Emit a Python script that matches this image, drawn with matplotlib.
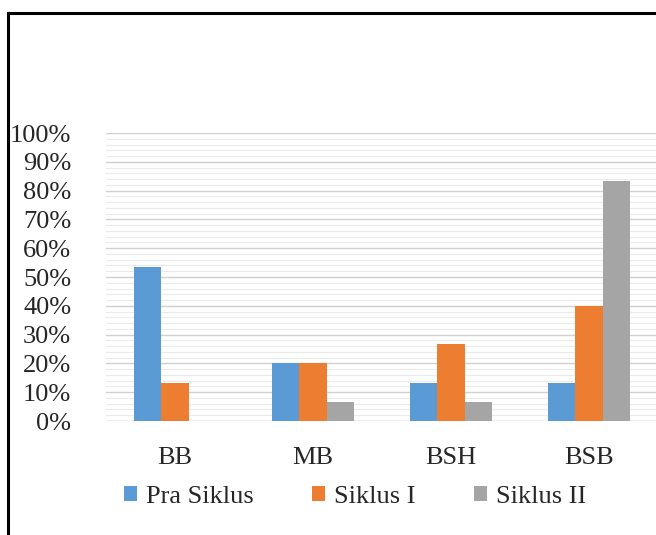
import matplotlib.pyplot as plt
import numpy as np
from matplotlib.lines import Line2D
from matplotlib.ticker import MultipleLocator, FuncFormatter

plt.rcParams['font.family'] = ['Liberation Serif', 'DejaVu Serif']

categories = ['BB', 'MB', 'BSH', 'BSB']
series_names = ['Pra Siklus', 'Siklus I', 'Siklus II']
pra_siklus = [53.33, 20.0, 13.33, 13.33]
siklus_1 = [13.33, 20.0, 26.67, 40.0]
siklus_2 = [0.0, 6.67, 6.67, 83.33]
colors = ['#5B9BD5', '#ED7D31', '#A5A5A5']

W, H = 656, 535
fig = plt.figure(figsize=(W / 100, H / 100), dpi=100)

# axes placed in pixel coords: 0% at y=421, 100% at y=133
ax = fig.add_axes([106 / W, (H - 421) / H, 552 / W, 288 / H])

x = np.arange(len(categories))
width = 0.2
for i, (vals, name) in enumerate(zip([pra_siklus, siklus_1, siklus_2], series_names)):
    ax.bar(x + (i - 1) * width, vals, width, color=colors[i], label=name, zorder=3)

ax.set_xlim(-0.5, 3.5)
ax.set_ylim(0, 100)
ax.yaxis.set_major_locator(MultipleLocator(10))
ax.yaxis.set_minor_locator(MultipleLocator(2))
ax.yaxis.set_major_formatter(FuncFormatter(lambda v, p: f'{v:.0f}%'))
ax.grid(axis='y', which='major', color='#d0d0d0', lw=1.0, zorder=0)
ax.grid(axis='y', which='minor', color='#ebebeb', lw=0.8, zorder=0)
for s in ax.spines.values():
    s.set_visible(False)
ax.axhline(0, color='#d0d0d0', lw=1.0, zorder=1)

ax.tick_params(axis='y', which='both', length=0, pad=25, labelsize=19, labelcolor='#262626')
ax.tick_params(axis='x', length=0, pad=19, labelsize=19, labelcolor='#262626')
ax.set_xticks(x)
ax.set_xticklabels(categories)

leg = fig.legend(loc='center', bbox_to_anchor=(355 / W, 1 - 497 / H), ncol=3,
                 frameon=False, prop={'family': ['Liberation Serif'], 'size': 19},
                 handlelength=0.5, handleheight=0.5,
                 handletextpad=0.35, columnspacing=2.2, labelcolor='#262626')

# frame lines (top and left)
fig.add_artist(Line2D([8 / W, 1], [1 - 13 / H, 1 - 13 / H], color='black', lw=2.2))
fig.add_artist(Line2D([8 / W, 8 / W], [0, 1 - 13 / H], color='black', lw=2.2))

fig.savefig('out.png', dpi=100, facecolor='white')
